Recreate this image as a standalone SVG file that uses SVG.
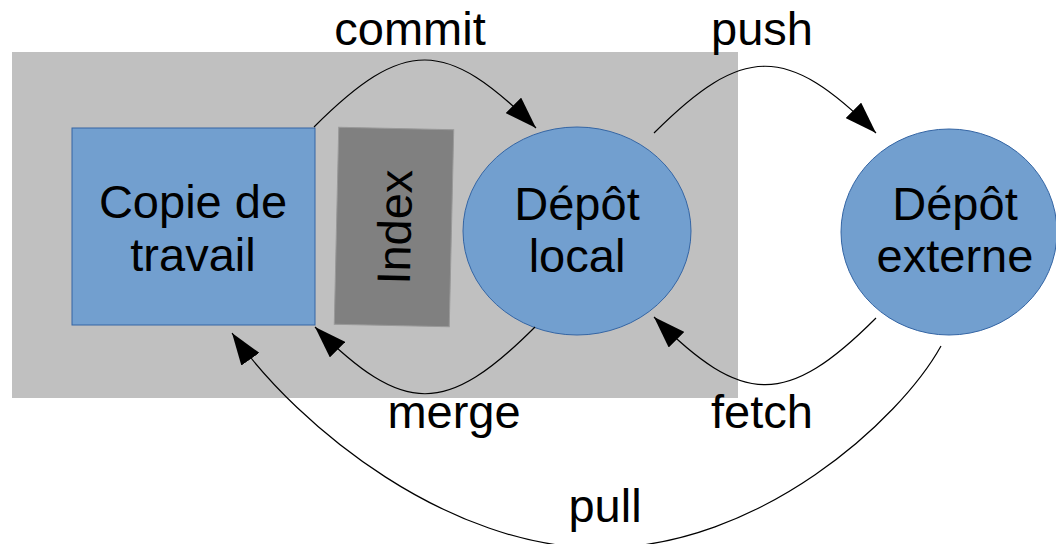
<svg xmlns="http://www.w3.org/2000/svg" width="1056" height="544" viewBox="0 0 1056 544">
<defs>
<style>
text{font-family:"Liberation Sans",Arial,sans-serif;font-size:47px;fill:#000;text-anchor:middle}
.blue{fill:#729fcf;stroke:#3465a4;stroke-width:1}
.conn{fill:none;stroke:#000;stroke-width:1.2}
</style>
<marker id="ah" markerUnits="userSpaceOnUse" viewBox="0 0 32 22" refX="32" refY="11" markerWidth="32" markerHeight="22" orient="auto">
<path d="M0,0 L32,11 L0,22 Z" fill="#000"/>
</marker>
</defs>
<rect x="12" y="52" width="726" height="346" fill="#c0c0c0"/>
<g id="copie">
<rect class="blue" x="72" y="128" width="243" height="197"/>
<text x="193" y="218">Copie de</text>
<text x="193" y="271">travail</text>
</g>
<g id="index" transform="rotate(1.3 394 227)">
<rect x="336.5" y="128.5" width="115" height="197" fill="#808080" stroke="#999" stroke-width="1"/>
<text transform="translate(411 227) rotate(-90)" x="0" y="0">Index</text>
</g>
<g id="local">
<ellipse class="blue" cx="577" cy="231" rx="114" ry="104"/>
<text x="577" y="220">Dépôt</text>
<text x="577" y="272">local</text>
</g>
<g id="externe">
<ellipse class="blue" cx="949" cy="232" rx="108" ry="103"/>
<text x="955" y="220">Dépôt</text>
<text x="955" y="272">externe</text>
</g>
<g id="connectors">
<path class="conn" marker-end="url(#ah)" d="M314,127 C404,37 446,38 536,128"/>
<path class="conn" marker-end="url(#ah)" d="M654,133 C743,44 787,44 876,133"/>
<path class="conn" marker-end="url(#ah)" d="M535,327 C446,416 404,416 315,327"/>
<path class="conn" marker-end="url(#ah)" d="M876,318 C787,407 743,407 654,317"/>
<path class="conn" marker-end="url(#ah)" d="M941,346 C900,420 760,548 600,548 C450,548 300,430 232,333"/>
<text x="410" y="45">commit</text>
<text x="762" y="45">push</text>
<text x="454" y="428">merge</text>
<text x="762" y="428">fetch</text>
<text x="605" y="522">pull</text>
</g>
</svg>
